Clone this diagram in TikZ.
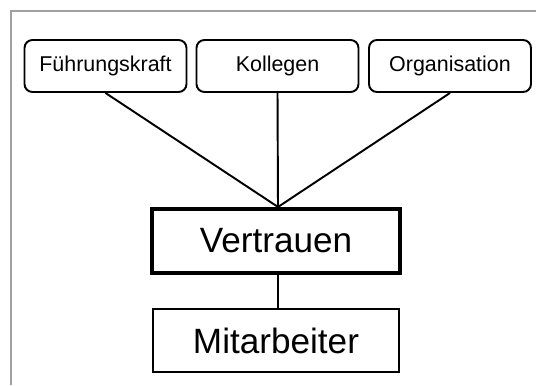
\documentclass[tikz,border=0pt]{standalone}
\usepackage{fontspec}
\setmainfont{Liberation Sans}
\usetikzlibrary{positioning,calc}
\definecolor{frame}{RGB}{160, 160, 160}
\tikzset{
  quelle/.style={draw, line width=1.1pt, rounded corners=0.16cm, minimum width=3.24cm,
    minimum height=1.04cm, font=\fontsize{12.2}{14}\selectfont},
  kern/.style={draw, line width=2.3pt, minimum width=4.96cm, minimum height=1.28cm,
    font=\fontsize{20}{24}\selectfont},
  basis/.style={draw, line width=1.1pt, minimum width=4.92cm, minimum height=1.26cm,
    font=\fontsize{20}{24}\selectfont},
  linie/.style={line width=1.1pt}
}

\begin{document}
\begin{tikzpicture}
  \useasboundingbox (0,0) rectangle (10.72,7.70);
  \fill[white] (0,0) rectangle (10.72,7.70);
  \draw[frame, line width=1.1pt] (0.22,0) -- (0.22,7.48) -- (10.72,7.48);

  \node[quelle] (fuehrung) at (2.11,6.38) {Führungskraft};
  \node[quelle] (kollegen) at (5.55,6.38) {Kollegen};
  \node[quelle] (organisation) at (9.0,6.38) {Organisation};

  \node[kern] (vertrauen) at (5.52,2.88) {Vertrauen};
  \node[basis] (mitarbeiter) at (5.52,0.89) {Mitarbeiter};

  \draw[linie] (fuehrung.south) -- ($(vertrauen.north)+(0.04,0)$);
  \draw[linie] (kollegen.south) -- ($(vertrauen.north)+(0.04,0)$);
  \draw[linie] (organisation.south) -- ($(vertrauen.north)+(0.04,0)$);
  \draw[linie] ($(vertrauen.south)+(0.04,0)$) -- ($(mitarbeiter.north)+(0.04,0)$);
\end{tikzpicture}
\end{document}
